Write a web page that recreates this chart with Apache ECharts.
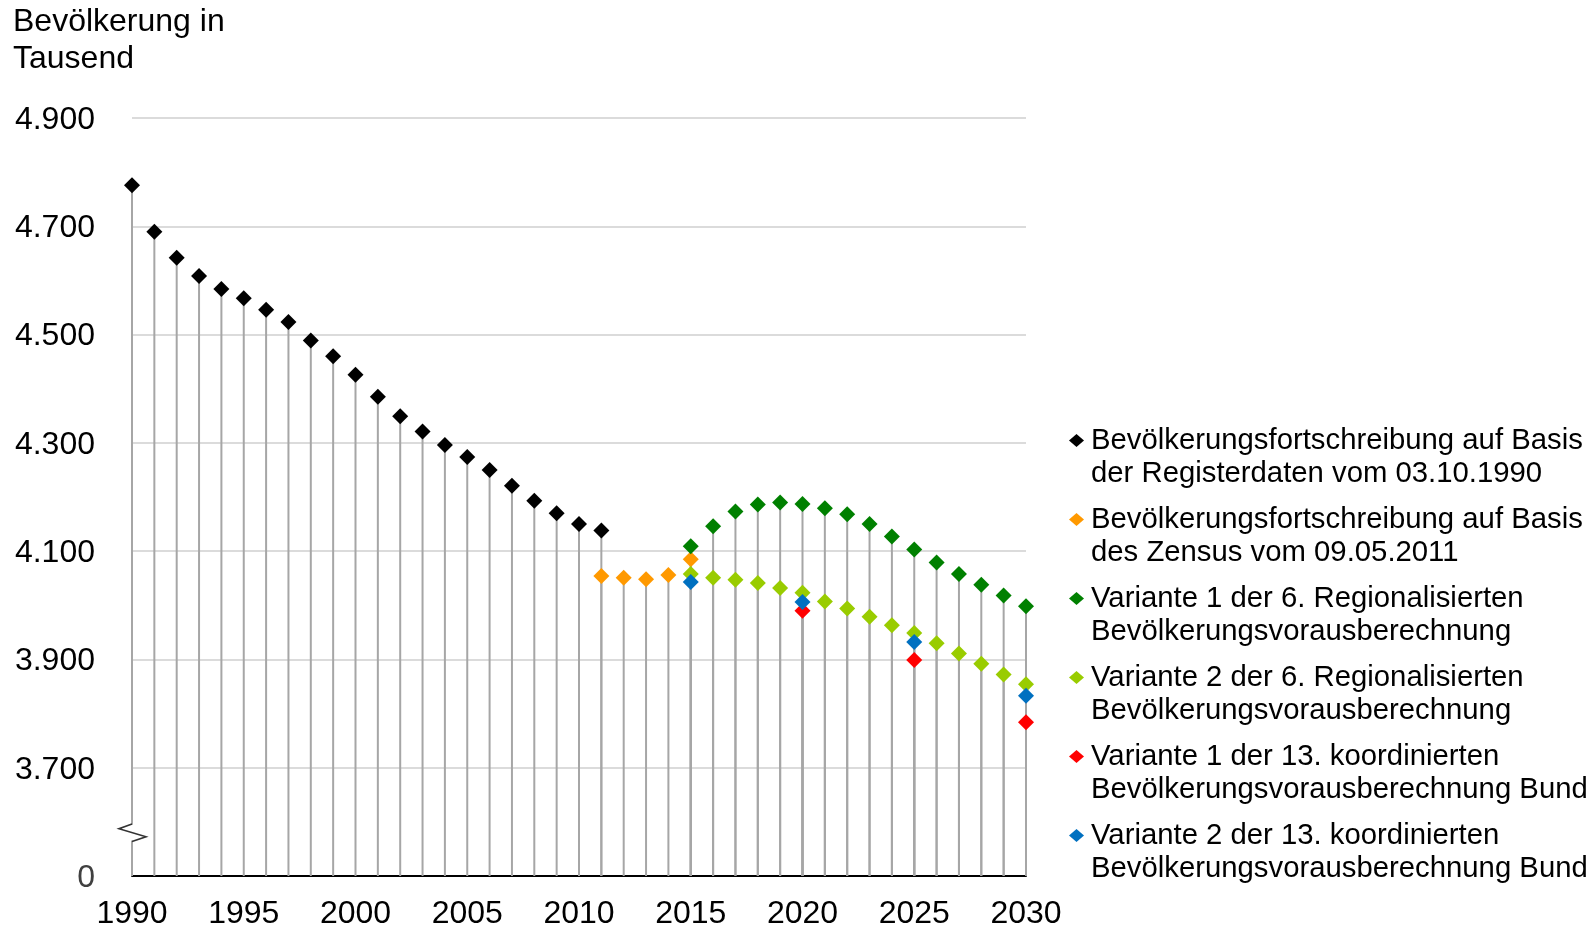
<!DOCTYPE html>
<html>
<head>
<meta charset="utf-8">
<script src="https://cdn.jsdelivr.net/npm/echarts@6/dist/echarts.min.js"></script>
<style>
html,body{margin:0;padding:0;background:#fff;}
#c{width:1594px;height:929px;}
</style>
</head>
<body>
<div id="c"></div>
<script>
// ---- data ----
const seriesNames = [
  'Bevölkerungsfortschreibung auf Basis\nder Registerdaten vom 03.10.1990',
  'Bevölkerungsfortschreibung auf Basis\ndes Zensus vom 09.05.2011',
  'Variante 1 der 6. Regionalisierten\nBevölkerungsvorausberechnung',
  'Variante 2 der 6. Regionalisierten\nBevölkerungsvorausberechnung',
  'Variante 1 der 13. koordinierten\nBevölkerungsvorausberechnung Bund',
  'Variante 2 der 13. koordinierten\nBevölkerungsvorausberechnung Bund'
];
const seriesColors = ['#000000', '#FF9900', '#008000', '#99CC00', '#FF0000', '#0070C0'];

const yearsRegister = [1990,1991,1992,1993,1994,1995,1996,1997,1998,1999,2000,2001,2002,2003,2004,2005,2006,2007,2008,2009,2010,2011];
const valuesRegister = [4776,4690,4642,4608,4584,4567,4546,4523,4489,4460,4426,4385,4349,4321,4296,4274,4250,4221,4193,4170,4150,4138];

const yearsZensus = [2011,2012,2013,2014,2015];
const valuesZensus = [4054,4051,4048,4056,4085];

const yearsRegio = [2015,2016,2017,2018,2019,2020,2021,2022,2023,2024,2025,2026,2027,2028,2029,2030];
const valuesRegioV1 = [4109,4146,4173,4186,4190,4187,4179,4168,4150,4127,4103,4079,4058,4038,4018,3998];
const valuesRegioV2 = [4058,4051,4047,4041,4032,4023,4007,3994,3979,3963,3949,3930,3911,3892,3872,3854];

const yearsBund = [2015,2020,2025,2030];
const valuesBundV1 = [null,3990,3899,3784];
const valuesBundV2 = [4043,4006,3932,3833];

const yAxisMin = 3500;     // shown as "0" (axis break)
const yAxisMax = 4900;
const yAxisStep = 200;
const xAxisMin = 1990;
const xAxisMax = 2030;
const xAxisStep = 5;
const yTitle = 'Bevölkerung in\nTausend';
const breakValue = 3580;   // position of the axis-break mark

// ---- build ----
const allYears = [yearsRegister, yearsZensus, yearsRegio, yearsRegio, yearsBund, yearsBund];
const allValues = [valuesRegister, valuesZensus, valuesRegioV1, valuesRegioV2, valuesBundV1, valuesBundV2];

function pairs(ys, vs) {
  const out = [];
  ys.forEach((y, i) => { if (vs[i] != null) out.push([y, vs[i]]); });
  return out;
}
const dropData = [];
allYears.forEach((ys, k) => pairs(ys, allValues[k]).forEach(p => dropData.push(p)));

function fmt(v) {
  if (v === yAxisMin) return '{z|0}';
  return '{n|' + String(v).replace(/\B(?=(\d{3})+(?!\d))/g, '.') + '}';
}

const FONT = '"Liberation Sans", Arial, sans-serif';
const legendIcon = 'path://M7.5,10L15,16.5L7.5,23L0,16.5Z M7.5,0L7.5,0 M7.5,66L7.5,66';

const chart = echarts.init(document.getElementById('c'), null, {renderer: 'canvas'});

const series = [{
  type: 'custom',
  name: 'drop',
  silent: true,
  z: 1,
  data: dropData,
  renderItem: function (params, api) {
    const top = api.coord([api.value(0), api.value(1)]);
    const bot = api.coord([api.value(0), yAxisMin]);
    return {
      type: 'line',
      shape: {x1: top[0], y1: top[1], x2: bot[0], y2: bot[1]},
      style: {stroke: '#a6a6a6', lineWidth: 2}
    };
  }
}];
seriesNames.forEach((n, k) => {
  series.push({
    type: 'scatter',
    name: n,
    symbol: 'diamond',
    symbolSize: 16,
    z: 3 + k,
    itemStyle: {color: seriesColors[k], opacity: 1},
    data: pairs(allYears[k], allValues[k])
  });
});

chart.setOption({
  animation: false,
  backgroundColor: '#ffffff',
  textStyle: {fontFamily: FONT},
  title: {
    text: yTitle,
    left: 8,
    top: -1,
    textStyle: {fontFamily: FONT, fontSize: 32, fontWeight: 'normal', color: '#000', lineHeight: 36.5}
  },
  legend: {
    orient: 'vertical',
    left: 1064,
    top: 419,
    itemWidth: 15,
    itemHeight: 66,
    itemGap: 13,
    icon: legendIcon,
    data: seriesNames,
    selectedMode: false,
    itemStyle: {opacity: 1},
    textStyle: {fontFamily: FONT, fontSize: 29.3, color: '#000', lineHeight: 33, padding: [0, 0, 0, 2]}
  },
  grid: {left: 132, right: 568, top: 118, bottom: 53, containLabel: false, outerBoundsMode: 'none'},
  xAxis: {
    type: 'value',
    min: xAxisMin,
    max: xAxisMax,
    interval: xAxisStep,
    axisLine: {onZero: false, lineStyle: {color: '#000', width: 2}},
    axisTick: {show: false},
    splitLine: {show: false},
    axisLabel: {fontFamily: FONT, fontSize: 32, color: '#000', margin: 22, formatter: v => String(v)}
  },
  yAxis: {
    type: 'value',
    min: yAxisMin,
    max: yAxisMax,
    interval: yAxisStep,
    axisLine: {show: false},
    axisTick: {show: false},
    splitLine: {lineStyle: {color: '#cfcfcf', width: 1.5}},
    axisLabel: {
      fontFamily: FONT, fontSize: 32, margin: 37,
      formatter: fmt,
      rich: {
        n: {fontFamily: FONT, fontSize: 32, color: '#000', padding: [4, 0, 0, 0]},
        z: {fontFamily: FONT, fontSize: 32, color: '#404040', padding: [4, 0, 0, 0]}
      }
    }
  },
  series: series
});

// axis-break mark on the y axis
const c = chart.convertToPixel({gridIndex: 0}, [xAxisMin, breakValue]);
chart.setOption({
  graphic: [{
    type: 'rect',
    silent: true,
    z: 9,
    shape: {x: c[0] - 3, y: c[1] - 8, width: 6, height: 16},
    style: {fill: '#ffffff'}
  }, {
    type: 'polyline',
    silent: true,
    z: 10,
    shape: {points: [[c[0], c[1] - 8.6], [c[0] - 13, c[1] - 4], [c[0] + 14, c[1] + 4], [c[0], c[1] + 8.7]]},
    style: {stroke: '#333333', lineWidth: 1.6, fill: null}
  }]
});
</script>
</body>
</html>
